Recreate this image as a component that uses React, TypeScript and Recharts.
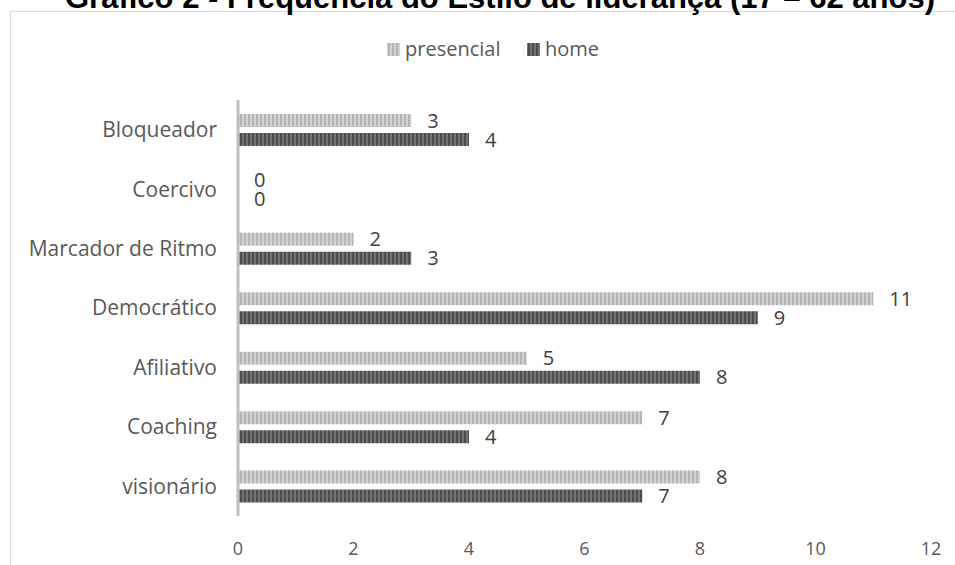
import { BarChart, Bar, XAxis, YAxis, LabelList } from "recharts"

// leadership styles, listed top to bottom
const categories = [
  "Bloqueador",
  "Coercivo",
  "Marcador de Ritmo",
  "Democrático",
  "Afiliativo",
  "Coaching",
  "visionário",
]
const presencial = [3, 0, 2, 11, 5, 7, 8]
const home = [4, 0, 3, 9, 8, 4, 7]
const xTicks = [0, 2, 4, 6, 8, 10, 12]

const data = categories.map((name, i) => ({
  name,
  presencial: presencial[i],
  home: home[i],
}))

const FONT = "'Open Sans', sans-serif"
const TEXT = "#595959"

export default function App() {
  return (
    <div
      style={{
        position: "fixed",
        top: 0,
        left: 0,
        width: 955,
        height: 565,
        overflow: "hidden",
        background: "#fff",
      }}
    >
      <svg width={955} height={565} style={{ position: "absolute", top: 0, left: 0 }}>
        <defs>
          <pattern id="stripeLight" width="4" height="4" patternUnits="userSpaceOnUse">
            <rect width="4" height="4" fill="#d2d2d2" />
            <rect width="2" height="4" fill="#b5b5b5" />
          </pattern>
          <pattern id="stripeDark" width="4" height="4" patternUnits="userSpaceOnUse">
            <rect width="4" height="4" fill="#747474" />
            <rect width="2" height="4" fill="#4c4c4c" />
          </pattern>
        </defs>
        <rect x={10.5} y={11.5} width={1000} height={600} fill="none" stroke="#d9d9d9" />
        <text
          x={500}
          y={8}
          textAnchor="middle"
          fontFamily="'Liberation Sans', Arial, sans-serif"
          fontWeight="bold"
          fontSize={31}
          fill="#000"
        >
          Gráfico 2 - Frequência do Estilo de liderança (17 – 62 anos)
        </text>
        {/* legend */}
        <rect x={387} y={43} width={13} height={13} fill="url(#stripeLight)" />
        <text x={405} y={56} fontFamily={FONT} fontSize={20} fill={TEXT}>
          presencial
        </text>
        <rect x={527} y={43} width={13} height={13} fill="url(#stripeDark)" />
        <text x={545} y={56} fontFamily={FONT} fontSize={20} fill={TEXT}>
          home
        </text>
      </svg>

      <div style={{ position: "absolute", top: 0, left: 0 }}>
        <BarChart
          width={955}
          height={565}
          data={data}
          layout="vertical"
          margin={{ top: 100, right: 24, bottom: 0, left: 0 }}
          barGap={6}
        >
          <XAxis
            type="number"
            domain={[0, 12]}
            ticks={xTicks}
            interval={0}
            axisLine={false}
            tickLine={false}
            tickSize={0}
            tickMargin={26}
            height={49}
            tick={{ fill: TEXT, fontSize: 18, fontFamily: FONT }}
          />
          <YAxis
            type="category"
            dataKey="name"
            width={238}
            interval={0}
            axisLine={{ stroke: "#bfbfbf", strokeWidth: 3 }}
            tickLine={false}
            tickSize={0}
            tickMargin={21}
            tick={{ fill: TEXT, fontSize: 21, fontFamily: FONT }}
          />
          {/* tiny minPointSize keeps the zero bars (and their labels) in the render */}
          <Bar
            dataKey="presencial"
            fill="url(#stripeLight)"
            barSize={13}
            minPointSize={0.01}
            isAnimationActive={false}
          >
            <LabelList
              dataKey="presencial"
              position="right"
              offset={16}
              fill="#404040"
              fontSize={20}
              fontFamily={FONT}
            />
          </Bar>
          <Bar
            dataKey="home"
            fill="url(#stripeDark)"
            barSize={13}
            minPointSize={0.01}
            isAnimationActive={false}
          >
            <LabelList
              dataKey="home"
              position="right"
              offset={16}
              fill="#404040"
              fontSize={20}
              fontFamily={FONT}
            />
          </Bar>
        </BarChart>
      </div>
    </div>
  )
}
